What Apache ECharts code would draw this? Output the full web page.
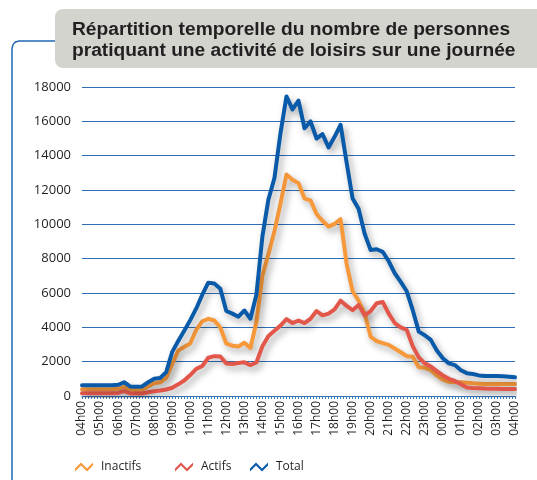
<!DOCTYPE html>
<html>
<head>
<meta charset="utf-8">
<script src="https://cdn.jsdelivr.net/npm/echarts@6/dist/echarts.min.js"></script>
<style>
  html, body { margin: 0; padding: 0; background: #fff; }
  #chart { width: 537px; height: 480px; }
</style>
</head>
<body>
<div id="chart"></div>
<script>
// minutes since 04h00, one reading every 20 minutes
const minutes = [
    0, 20, 40, 60, 80, 100, 120, 140, 160, 180, 200, 220,
    240, 260, 280, 300, 320, 340, 360, 380, 400, 420, 440, 460,
    480, 500, 520, 540, 560, 580, 600, 620, 640, 660, 680, 700,
    720, 740, 760, 780, 800, 820, 840, 860, 880, 900, 920, 940,
    960, 980, 1000, 1020, 1040, 1060, 1080, 1100, 1120, 1140, 1160, 1180,
    1200, 1220, 1240, 1260, 1280, 1300, 1320, 1340, 1360, 1380, 1400, 1420,
    1440
];

const hourLabels = [
    '04h00', '05h00', '06h00', '07h00', '08h00', '09h00', '10h00', '11h00',
    '12h00', '13h00', '14h00', '15h00', '16h00', '17h00', '18h00', '19h00',
    '20h00', '21h00', '22h00', '23h00', '00h00', '01h00', '02h00', '03h00', '04h00'
];

const inactifs = [
    400, 400, 400, 400, 400, 400, 420, 530, 380, 350,
    370, 550, 740, 800, 1050, 1860, 2650, 2850, 3060, 3850,
    4350, 4500, 4400, 3990, 3050, 2930, 2880, 3100, 2800, 4300,
    7000, 8250, 9600, 11200, 12900, 12600, 12400, 11500, 11400, 10600,
    10200, 9870, 10030, 10300, 7700, 6100, 5550, 4800, 3450, 3200,
    3080, 2980, 2770, 2550, 2320, 2280, 1680, 1640, 1500, 1200,
    950, 830, 800, 800, 770, 740, 720, 700, 700, 700,
    700, 700, 700
];

const actifs = [
    160, 160, 160, 160, 160, 160, 180, 280, 150, 140,
    150, 220, 280, 320, 380, 480, 680, 900, 1220, 1580,
    1750, 2230, 2320, 2300, 1890, 1870, 1920, 1960, 1800, 1950,
    2900, 3500, 3800, 4100, 4480, 4250, 4400, 4250, 4500, 4950,
    4700, 4800, 5050, 5550, 5250, 5000, 5300, 4700, 4950, 5400,
    5480, 4800, 4250, 4000, 3850, 2900, 2250, 1900, 1720, 1450,
    1200, 1000, 880, 680, 500, 470, 450, 430, 420, 420,
    410, 410, 410
];

const total = [
    620, 620, 620, 620, 620, 620, 650, 800, 560, 540,
    560, 800, 1000, 1050, 1390, 2570, 3200, 3800, 4420, 5100,
    5900, 6600, 6550, 6250, 4950, 4800, 4620, 4980, 4500, 5900,
    9300, 11450, 12700, 15300, 17450, 16700, 17200, 15600, 16000, 15000,
    15250, 14480, 15100, 15800, 13600, 11500, 10900, 9450, 8500, 8550,
    8400, 7850, 7150, 6650, 6100, 5000, 3750, 3540, 3270, 2650,
    2200, 1900, 1800, 1500, 1330, 1280, 1200, 1160, 1160, 1160,
    1150, 1120, 1090
];

const seriesNames = ['Inactifs', 'Actifs', 'Total'];
const seriesColors = ['#f7993b', '#e3574b', '#0a5aaa'];
const titleText = 'Répartition temporelle du nombre de personnes\npratiquant une activité de loisirs sur une journée';

const chart = echarts.init(document.getElementById('chart'));

const toPoints = vals => minutes.map((m, i) => [m, vals[i]]);
const zigzag = 'path://M0,7 L6,1 L12,7 L18,1 L18,4 L12,10 L6,4 L0,10 Z';

const makeSeries = (name, vals, color) => ({
    name: name,
    type: 'line',
    data: toPoints(vals),
    symbol: 'none',
    lineStyle: {
        width: 4,
        color: color,
        cap: 'round',
        join: 'round',
        shadowColor: 'rgba(0,0,0,0.35)',
        shadowBlur: 7,
        shadowOffsetX: 3,
        shadowOffsetY: 4
    },
    itemStyle: {color: color}
});

// one legend block per series, placed like the original
const legendLefts = [75, 175, 250];
const legends = seriesNames.map((name, i) => ({
    left: legendLefts[i],
    top: 461,
    padding: 0,
    itemWidth: 22,
    itemHeight: 9,
    icon: zigzag,
    data: [name],
    textStyle: {fontFamily: 'Open Sans', fontSize: 12, color: '#231f20', padding: [0, 0, 0, 1]}
}));

const option = {
    animation: false,
    title: {
        text: titleText,
        left: 72,
        top: 19,
        padding: 0,
        z: 10,
        textStyle: {
            fontFamily: 'Liberation Sans',
            fontSize: 19.2,
            fontWeight: 'bold',
            lineHeight: 21,
            color: '#231f20'
        }
    },
    graphic: [
        {
            type: 'rect',
            z: 0,
            shape: {x: 55, y: 9, width: 500, height: 59, r: 8},
            style: {fill: '#d4d4cf'}
        },
        {
            type: 'polyline',
            z: 0,
            shape: {points: [[55, 41], [19, 41], [15.5, 42], [13.2, 44.3], [12.2, 47.5], [12, 50], [12, 480]]},
            style: {fill: 'none', stroke: '#1f68b4', lineWidth: 1.5}
        }
    ],
    legend: legends,
    grid: {left: 82, right: 22, top: 87, bottom: 84, containLabel: false},
    xAxis: {
        type: 'value',
        min: 0,
        max: 1440,
        interval: 60,
        axisLine: {show: true, lineStyle: {color: '#2f6fb8', width: 1}},
        axisTick: {show: true, length: 3, lineStyle: {color: '#3a7cc4'}},
        minorTick: {show: true, splitNumber: 6, length: 3, lineStyle: {color: '#3a7cc4'}},
        splitLine: {show: false},
        axisLabel: {
            rotate: 90,
            margin: 5,
            fontFamily: 'Open Sans',
            fontSize: 12,
            color: '#231f20',
            formatter: v => hourLabels[v / 60]
        }
    },
    yAxis: {
        type: 'value',
        min: 0,
        max: 18000,
        interval: 2000,
        axisLine: {show: false},
        axisTick: {show: false},
        splitLine: {lineStyle: {color: '#2f6fb8', width: 1}},
        axisLabel: {
            margin: 11,
            fontFamily: 'Open Sans',
            fontSize: 13,
            color: '#231f20',
            formatter: v => String(v)
        }
    },
    series: [
        makeSeries(seriesNames[0], inactifs, seriesColors[0]),
        makeSeries(seriesNames[1], actifs, seriesColors[1]),
        makeSeries(seriesNames[2], total, seriesColors[2])
    ]
};

chart.setOption(option);
window.addEventListener('resize', () => chart.resize());
</script>
</body>
</html>
